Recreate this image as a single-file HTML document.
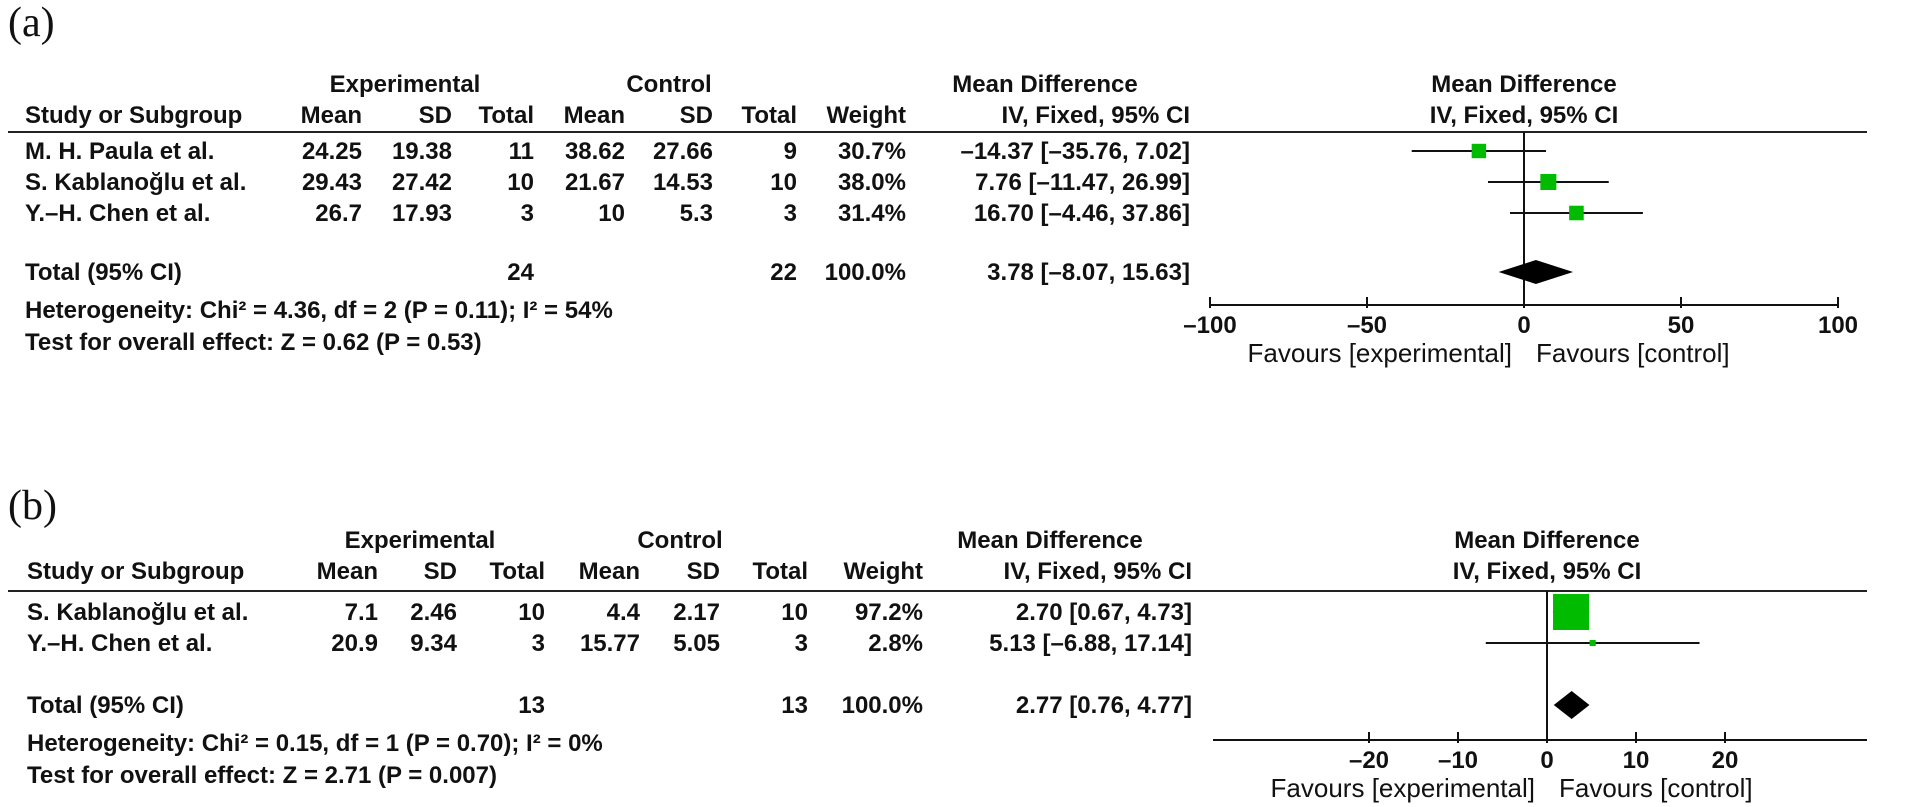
<!DOCTYPE html>
<html><head><meta charset="utf-8"><style>
html,body{margin:0;padding:0;background:#fff;width:1907px;height:807px;overflow:hidden}
svg text{font-family:"Liberation Sans",sans-serif;fill:#111}
.b{font-weight:bold;font-size:24px}
.r{font-size:26px}
.lbl{font-family:"Liberation Serif",serif !important;font-size:42px}
</style></head><body>
<svg id="chart" xmlns="http://www.w3.org/2000/svg" width="1907" height="807" viewBox="0 0 1907 807"></svg>
<script>
// ---------- Panel (a) data ----------
const aStudies = ["M. H. Paula et al.", "S. Kablanoğlu et al.", "Y.–H. Chen et al."];
const aExpMean = ["24.25", "29.43", "26.7"];
const aExpSD = ["19.38", "27.42", "17.93"];
const aExpN = ["11", "10", "3"];
const aCtlMean = ["38.62", "21.67", "10"];
const aCtlSD = ["27.66", "14.53", "5.3"];
const aCtlN = ["9", "10", "3"];
const aWeight = [30.7, 38.0, 31.4];
const aMD = [-14.37, 7.76, 16.70];
const aLo = [-35.76, -11.47, -4.46];
const aHi = [7.02, 26.99, 37.86];
const aTotal = [3.78, -8.07, 15.63];
const aTotals = ["24", "22", "100.0%"];
const aTicks = [-100, -50, 0, 50, 100];
const aHet = "Heterogeneity: Chi² = 4.36, df = 2 (P = 0.11); I² = 54%";
const aTest = "Test for overall effect: Z = 0.62 (P = 0.53)";
// ---------- Panel (b) data ----------
const bStudies = ["S. Kablanoğlu et al.", "Y.–H. Chen et al."];
const bExpMean = ["7.1", "20.9"];
const bExpSD = ["2.46", "9.34"];
const bExpN = ["10", "3"];
const bCtlMean = ["4.4", "15.77"];
const bCtlSD = ["2.17", "5.05"];
const bCtlN = ["10", "3"];
const bWeight = [97.2, 2.8];
const bMD = [2.70, 5.13];
const bLo = [0.67, -6.88];
const bHi = [4.73, 17.14];
const bTotal = [2.77, 0.76, 4.77];
const bTotals = ["13", "13", "100.0%"];
const bTicks = [-20, -10, 0, 10, 20];
const bHet = "Heterogeneity: Chi² = 0.15, df = 1 (P = 0.70); I² = 0%";
const bTest = "Test for overall effect: Z = 2.71 (P = 0.007)";

const NS = "http://www.w3.org/2000/svg";
const svg = document.getElementById("chart");
function mk(tag, attrs, parent) {
  const e = document.createElementNS(NS, tag);
  for (const k in attrs) e.setAttribute(k, attrs[k]);
  (parent || svg).appendChild(e);
  return e;
}
function txt(s, x, y, anchor, cls, parent) {
  const t = mk("text", {x: x, y: y, "text-anchor": anchor, class: cls}, parent);
  t.textContent = s;
  return t;
}
function fmt(v) { return (v < 0 ? "–" : "") + Math.abs(v).toFixed(2); }

function panel(cfg) {
  const g = mk("g", {});
  
  
  const L = txt(cfg.label, 8, cfg.top + 36, "start", "lbl", g);
  
  
  const c = cfg.cols;
  const h1 = cfg.h1, h2 = cfg.h1 + 31;
  txt("Experimental", cfg.expC, h1 + 8, "middle", "b", g);
  txt("Control", cfg.ctlC, h1 + 8, "middle", "b", g);
  txt("Mean Difference", cfg.mdC, h1 + 8, "middle", "b", g);
  txt("Mean Difference", cfg.zero, h1 + 8, "middle", "b", g);
  txt("Study or Subgroup", c[0], h2 + 8, "start", "b", g);
  ["Mean", "SD", "Total", "Mean", "SD", "Total", "Weight", "IV, Fixed, 95% CI"].forEach((s, i) => txt(s, c[i + 1], h2 + 8, "end", "b", g));
  txt("IV, Fixed, 95% CI", cfg.zero, h2 + 8, "middle", "b", g);
  const hl = mk("line", {x1: 8, x2: 1867, y1: cfg.line, y2: cfg.line, stroke: "#222", "stroke-width": 2}, g);
  
  
  const sx = v => cfg.zero + v * cfg.scale;
  const zl = mk("line", {x1: sx(0), x2: sx(0), y1: cfg.line, y2: cfg.axisY, stroke: "#111", "stroke-width": 2}, g);
  
  
  cfg.studies.forEach((s, i) => {
    const y = cfg.rows[i];
    const vals = [cfg.em[i], cfg.es[i], cfg.en[i], cfg.cm[i], cfg.cs[i], cfg.cn[i], cfg.w[i].toFixed(1) + "%",
      fmt(cfg.md[i]) + " [" + fmt(cfg.lo[i]) + ", " + fmt(cfg.hi[i]) + "]"];
    const n = txt(s, c[0], y + 8, "start", "b", g);
    
    
    vals.forEach((v, j) => txt(v, c[j + 1], y + 8, "end", "b", g));
    const ci = mk("line", {x1: sx(cfg.lo[i]), x2: sx(cfg.hi[i]), y1: y, y2: y, stroke: "#111", "stroke-width": 2}, g);
    
    
    const sz = Math.max(4, cfg.sq * Math.sqrt(cfg.w[i] / 100));
    const r = mk("rect", {x: sx(cfg.md[i]) - sz / 2, y: y - sz / 2, width: sz, height: sz, fill: "#00bb00"}, g);
    
    
  });
  const ty = cfg.totalY;
  txt("Total (95% CI)", c[0], ty + 8, "start", "b", g);
  txt(cfg.totals[0], c[3], ty + 8, "end", "b", g);
  txt(cfg.totals[1], c[6], ty + 8, "end", "b", g);
  txt(cfg.totals[2], c[7], ty + 8, "end", "b", g);
  txt(cfg.tot[0].toFixed(2) + " [" + fmt(cfg.tot[1]) + ", " + fmt(cfg.tot[2]) + "]", c[8], ty + 8, "end", "b", g);
  const d = mk("polygon", {points: [sx(cfg.tot[1]) + "," + ty, sx(cfg.tot[0]) + "," + (ty - cfg.dh), sx(cfg.tot[2]) + "," + ty, sx(cfg.tot[0]) + "," + (ty + cfg.dh)].join(" "), fill: "#000"}, g);
  
  
  const he = txt(cfg.het, c[0], ty + 46, "start", "b", g);
  
  
  const te = txt(cfg.test, c[0], ty + 78, "start", "b", g);
  
  
  const ax = mk("line", {x1: cfg.axX1, x2: cfg.axX2, y1: cfg.axisY, y2: cfg.axisY, stroke: "#111", "stroke-width": 2}, g);
  
  
  cfg.ticks.forEach(t => {
    const tk = mk("line", {x1: sx(t), x2: sx(t), y1: cfg.axisY - 8, y2: cfg.axisY + 3, stroke: "#111", "stroke-width": 2}, g);
    
    
    const tl = txt((t < 0 ? "–" : "") + Math.abs(t), sx(t), cfg.axisY + 28, "middle", "b", g);
    
    
  });
  const f1 = txt("Favours [experimental]", sx(0) - 12, cfg.axisY + 57, "end", "r", g);
  
  
  const f2 = txt("Favours [control]", sx(0) + 12, cfg.axisY + 57, "start", "r", g);
  
  
}

panel({name: "panel-a", label: "(a)", top: 0, h1: 84, line: 132, rows: [151, 182, 213], totalY: 272, axisY: 305,
  cols: [25, 362, 452, 534, 625, 713, 797, 906, 1190], expC: 405, ctlC: 669, mdC: 1045,
  zero: 1524, scale: 3.14, axX1: 1210, axX2: 1838, sq: 26, dh: 12,
  studies: aStudies, em: aExpMean, es: aExpSD, en: aExpN, cm: aCtlMean, cs: aCtlSD, cn: aCtlN,
  w: aWeight, md: aMD, lo: aLo, hi: aHi, tot: aTotal, totals: aTotals, ticks: aTicks, het: aHet, test: aTest});
panel({name: "panel-b", label: "(b)", top: 483, h1: 540, line: 591, rows: [612, 643], totalY: 705, axisY: 740,
  cols: [27, 378, 457, 545, 640, 720, 808, 923, 1192], expC: 420, ctlC: 680, mdC: 1050,
  zero: 1547, scale: 8.9, axX1: 1213, axX2: 1867, sq: 36.5, dh: 14,
  studies: bStudies, em: bExpMean, es: bExpSD, en: bExpN, cm: bCtlMean, cs: bCtlSD, cn: bCtlN,
  w: bWeight, md: bMD, lo: bLo, hi: bHi, tot: bTotal, totals: bTotals, ticks: bTicks, het: bHet, test: bTest});
</script>
</body></html>
